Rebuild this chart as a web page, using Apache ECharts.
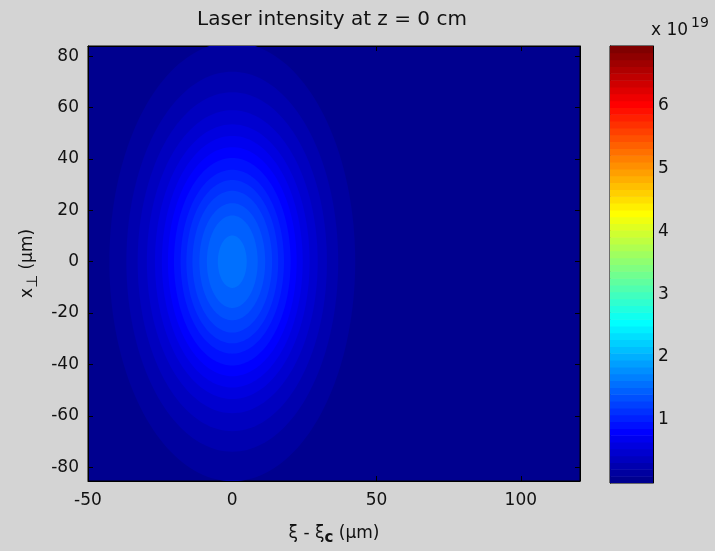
<!DOCTYPE html>
<html>
<head>
<meta charset="utf-8">
<title>Laser intensity at z = 0 cm</title>
<script src="https://cdn.jsdelivr.net/npm/echarts@6/dist/echarts.min.js"></script>
<style>
  html, body { margin: 0; padding: 0; background: #d4d4d4; }
  #chart { width: 715px; height: 551px; }
</style>
</head>
<body>
<div id="chart"></div>
<script>
// Filled iso-intensity bands of the pulse (intensity in units of 1e19),
// listed from the outermost band inwards, with their half-extents in µm.
const bandLevel      = [0.16, 0.27, 0.38, 0.49, 0.60, 0.70, 0.81, 0.92, 1.03, 1.14, 1.25, 1.36, 1.46, 1.57];
const bandHalfLength = [42.6, 36.7, 32.8, 29.6, 26.8, 24.4, 22.3, 20.2, 17.9, 15.9, 13.8, 11.4, 8.8, 5.0];   // along ξ - ξc
const bandHalfWidth  = [85.5, 74.0, 66.0, 59.0, 53.5, 49.0, 44.6, 40.4, 35.8, 31.8, 27.6, 22.8, 18.0, 10.2]; // along x⊥
const pulseCentre    = [0, 0];          // (ξ - ξc, x⊥) of the peak, µm

// Axis ranges and tick labels
const xiRange    = [-50, 120.5];
const xPerpRange = [-85.4, 84.0];
const xiTicks    = [-50, 0, 50, 100];
const xPerpTicks = [-80, -60, -40, -20, 0, 20, 40, 60, 80];
const colorMax   = 6.94;                // top of the colour scale, 1e19
const colorTicks = [1, 2, 3, 4, 5, 6];

// 64-step jet colormap
function jet64() {
  const m = 64, n = 16;
  const u = [];
  for (let i = 1; i <= n; i++) u.push(i / n);
  for (let i = 0; i < n - 1; i++) u.push(1);
  for (let i = n; i >= 1; i--) u.push(i / n);
  const r = new Array(m).fill(0), g = new Array(m).fill(0), b = new Array(m).fill(0);
  const g0 = Math.ceil(n / 2) - (m % 4 === 1 ? 1 : 0);
  u.forEach((val, k) => {
    const gi = g0 + k + 1, ri = gi + n, bi = gi - n;
    if (gi >= 1 && gi <= m) g[gi - 1] = val;
    if (ri >= 1 && ri <= m) r[ri - 1] = val;
    if (bi >= 1 && bi <= m) b[bi - 1] = val;
  });
  const out = [];
  for (let i = 0; i < m; i++) {
    out.push('rgb(' + Math.round(r[i] * 255) + ',' + Math.round(g[i] * 255) + ',' + Math.round(b[i] * 255) + ')');
  }
  return out;
}
const JET = jet64();
function colorOf(v) {
  let k = Math.floor(v / colorMax * 64);
  if (k < 0) k = 0;
  if (k > 63) k = 63;
  return JET[k];
}

const FONT = 'DejaVu Sans';
const INK = '#111';
const bands = bandLevel.map((v, i) => [v, bandHalfLength[i], bandHalfWidth[i]]);
const colorSteps = JET.map((c, i) => [i]);

const chart = echarts.init(document.getElementById('chart'), null, { renderer: 'canvas' });

// an axis of the surrounding box: black line, inward ticks, no grid lines
const boxAxis = (extra, ticks, tickLen) => Object.assign({
  type: 'value',
  axisLine: { show: true, onZero: false, lineStyle: { color: '#000', width: 1 } },
  axisTick: { show: true, inside: true, length: tickLen, customValues: ticks, lineStyle: { color: '#000' } },
  splitLine: { show: false },
  axisLabel: { show: false }
}, extra);

chart.setOption({
  backgroundColor: '#d4d4d4',
  animation: false,
  textStyle: { fontFamily: FONT },
  grid: [
    { left: 88, top: 46, width: 492, height: 437, show: true, borderColor: '#000', borderWidth: 1,
      backgroundColor: colorOf(0) },
    { left: 610, top: 46, width: 43, height: 437, show: true, borderColor: '#000', borderWidth: 1 }
  ],
  xAxis: [
    boxAxis({
      gridIndex: 0, position: 'bottom', min: xiRange[0], max: xiRange[1],
      axisLabel: { show: true, customValues: xiTicks, color: INK, fontSize: 17, margin: 11, fontFamily: FONT },
      name: '{t|ξ - ξ}{s|c}{t| (μm)}',
      nameLocation: 'middle', nameGap: 40,
      nameTextStyle: {
        rich: {
          t: { fontSize: 17, color: INK, fontFamily: FONT },
          s: { fontSize: 15, color: INK, fontFamily: FONT, fontWeight: 'bold', padding: [10, 0, 0, 0] }
        }
      }
    }, xiTicks, 5),
    boxAxis({ gridIndex: 0, position: 'top', min: xiRange[0], max: xiRange[1] }, xiTicks, 5),
    { gridIndex: 1, type: 'value', min: 0, max: 1, show: false }
  ],
  yAxis: [
    boxAxis({
      gridIndex: 0, position: 'left', min: xPerpRange[0], max: xPerpRange[1],
      axisLabel: { show: true, customValues: xPerpTicks, color: INK, fontSize: 17, margin: 9, fontFamily: FONT },
      name: '{t|x}{s|⊥}{t| (μm)}',
      nameLocation: 'middle', nameGap: 46, nameRotate: 90,
      nameTextStyle: {
        rich: {
          t: { fontSize: 17, color: INK, fontFamily: FONT },
          s: { fontSize: 15, color: INK, fontFamily: FONT, padding: [10, 0, 0, 0] }
        }
      }
    }, xPerpTicks, 5),
    boxAxis({ gridIndex: 0, position: 'right', min: xPerpRange[0], max: xPerpRange[1] }, xPerpTicks, 5),
    boxAxis({
      gridIndex: 1, position: 'right', min: 0, max: colorMax,
      axisLabel: { show: true, customValues: colorTicks, color: INK, fontSize: 17, margin: 5, fontFamily: FONT }
    }, colorTicks, 4),
    boxAxis({ gridIndex: 1, position: 'left', min: 0, max: colorMax }, colorTicks, 4)
  ],
  graphic: [
    { type: 'text', x: 332, y: 10,
      style: { text: 'Laser intensity at z = 0 cm', fill: INK, font: '20px "' + FONT + '"', align: 'center' } },
    { type: 'text', left: 651, top: 16,
      style: { text: '{b|x 10}{e|19}', fill: INK,
        rich: {
          b: { fontSize: 17, fontFamily: FONT, color: INK, padding: [8, 0, 0, 0] },
          e: { fontSize: 14, fontFamily: FONT, color: INK, padding: [0, 0, 8, 3] }
        } } }
  ],
  series: [
    {
      type: 'custom',
      name: 'intensity',
      xAxisIndex: 0, yAxisIndex: 0,
      clip: true,
      silent: true,
      data: bands,
      renderItem: function (params, api) {
        const a = api.value(1), b = api.value(2), v = api.value(0);
        const pts = [];
        const N = 180;
        for (let i = 0; i < N; i++) {
          const t = 2 * Math.PI * i / N;
          pts.push(api.coord([pulseCentre[0] + a * Math.cos(t), pulseCentre[1] + b * Math.sin(t)]));
        }
        return { type: 'polygon', shape: { points: pts }, style: { fill: colorOf(v), stroke: null } };
      }
    },
    {
      type: 'custom',
      name: 'colorbar',
      xAxisIndex: 2, yAxisIndex: 2,
      clip: true,
      silent: true,
      data: colorSteps,
      renderItem: function (params, api) {
        const k = api.value(0);
        const lo = api.coord([0, k * colorMax / 64]);
        const hi = api.coord([1, (k + 1) * colorMax / 64]);
        return {
          type: 'rect',
          shape: { x: lo[0], y: hi[1], width: hi[0] - lo[0], height: lo[1] - hi[1] + 0.5 },
          style: { fill: JET[k] }
        };
      }
    }
  ]
});
</script>
</body>
</html>
